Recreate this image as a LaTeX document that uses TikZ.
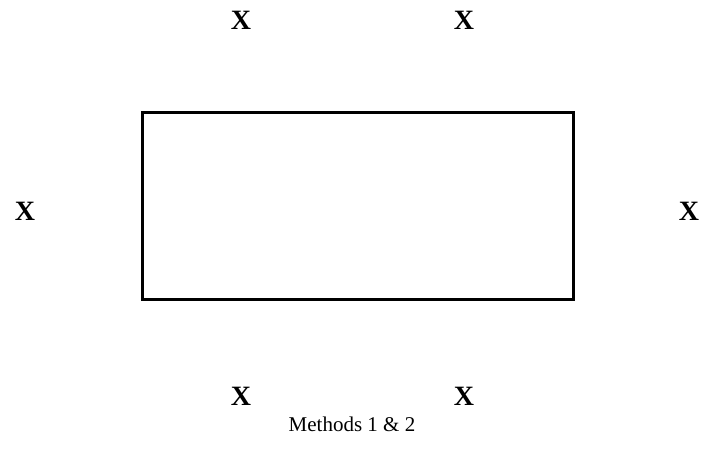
\documentclass[tikz,border=0pt]{standalone}
\usepackage{fontspec}
\setmainfont{Liberation Serif}
\usetikzlibrary{positioning}

\tikzset{
    mark x/.style={font=\fontsize{28}{32}\selectfont\bfseries, inner sep=0pt},
    caption/.style={font=\fontsize{21}{24}\selectfont, inner sep=0pt}
}

\begin{document}
\begin{tikzpicture}[x=1pt, y=-1pt]
    \useasboundingbox (0,0) rectangle (707,449);
    % the box
    \node (box) [draw, line width=3pt, minimum width=431pt, minimum height=186pt, inner sep=0pt] at (357.5,206) {};

    % the marks
    \node (topl) [mark x] at (241,20) {X};
    \node (topr) [mark x] at (464,20) {X};
    \node (left) [mark x] at (25,211) {X};
    \node (right) [mark x] at (689,211) {X};
    \node (botl) [mark x] at (241,396) {X};
    \node (botr) [mark x] at (464,396) {X};

    \node (label) [caption] at (352,424) {Methods 1 \& 2};
\end{tikzpicture}
\end{document}
